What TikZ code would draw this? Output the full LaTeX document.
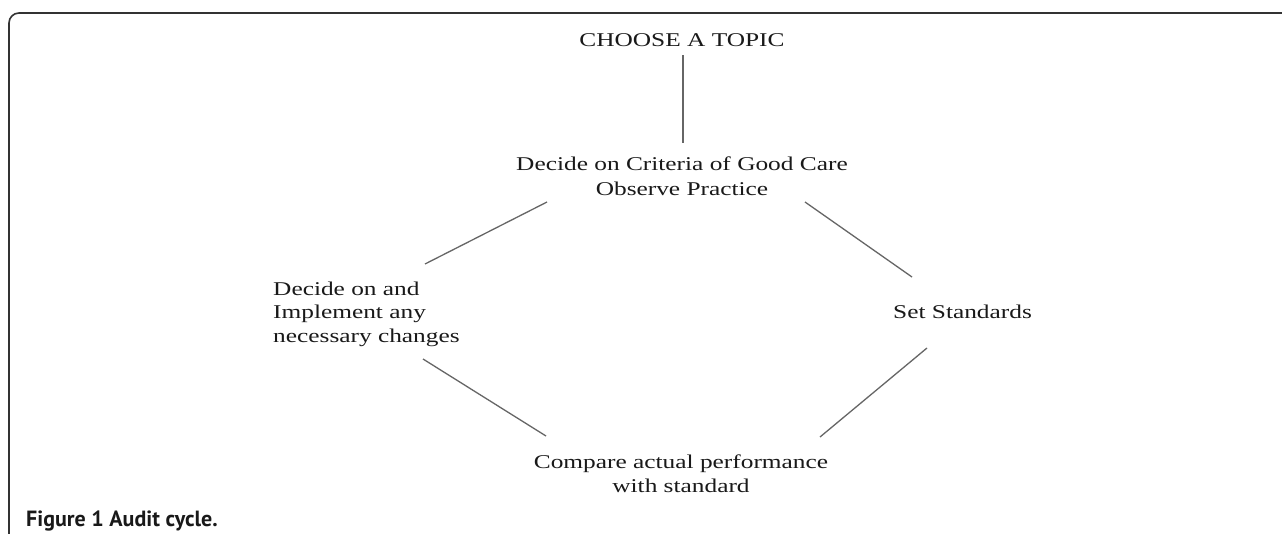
\documentclass[tikz,border=0pt]{standalone}
\usepackage{fontspec}
\newfontfamily\diagfont[FakeStretch=1.3]{Liberation Serif}
\newfontfamily\capfont{PT Sans}
\begin{document}
\begin{tikzpicture}[x=1pt,y=-1pt,
  lbl/.style={inner sep=0pt, text=black!90},
  conn/.style={draw=black!60, line width=1.3pt},
  framebox/.style={draw=black!80, line width=1.6pt, rounded corners=10pt},
  capt/.style={font=\capfont\bfseries\fontsize{22pt}{26pt}\selectfont, inner sep=0pt, anchor=base west, text=black!90}]
\useasboundingbox (0,0) rectangle (1282,533);
\fill[white] (0,0) rectangle (1282,533);
\draw[framebox] (9,540) -- (9,13) -- (1290,13);

\node[lbl, anchor=base, font=\diagfont\fontsize{19.5pt}{24pt}\selectfont] (topic) at (682,46) {CHOOSE A TOPIC};
\node[lbl, anchor=base, align=center, font=\diagfont\fontsize{19.5pt}{25pt}\selectfont] (crit) at (682,195) {Decide on Criteria of Good Care\\Observe Practice};
\node[lbl, anchor=base west, align=left, font=\diagfont\fontsize{19.5pt}{23.5pt}\selectfont] (impl) at (273,342) {Decide on and\\Implement any\\necessary changes};
\node[lbl, anchor=base west, font=\diagfont\fontsize{19.5pt}{24pt}\selectfont] (std) at (893,318) {Set Standards};
\node[lbl, anchor=base, align=center, font=\diagfont\fontsize{19.5pt}{24pt}\selectfont] (comp) at (681,492) {Compare actual performance\\with standard};

\draw[conn] ([shift={(1,9)}]topic.base) -- ([shift={(1,-52)}]crit.base);
\draw[conn] ([shift={(-135,7)}]crit.base) -- ([shift={(152,-78)}]impl.base west);
\draw[conn] ([shift={(123,7)}]crit.base) -- ([shift={(19,-41)}]std.base west);
\draw[conn] ([shift={(150,17)}]impl.base west) -- ([shift={(-135,-56)}]comp.base);
\draw[conn] ([shift={(34,30)}]std.base west) -- ([shift={(139,-55)}]comp.base);

\node[capt] (caption) at (26,526) {Figure 1 Audit cycle.};
\end{tikzpicture}
\end{document}
